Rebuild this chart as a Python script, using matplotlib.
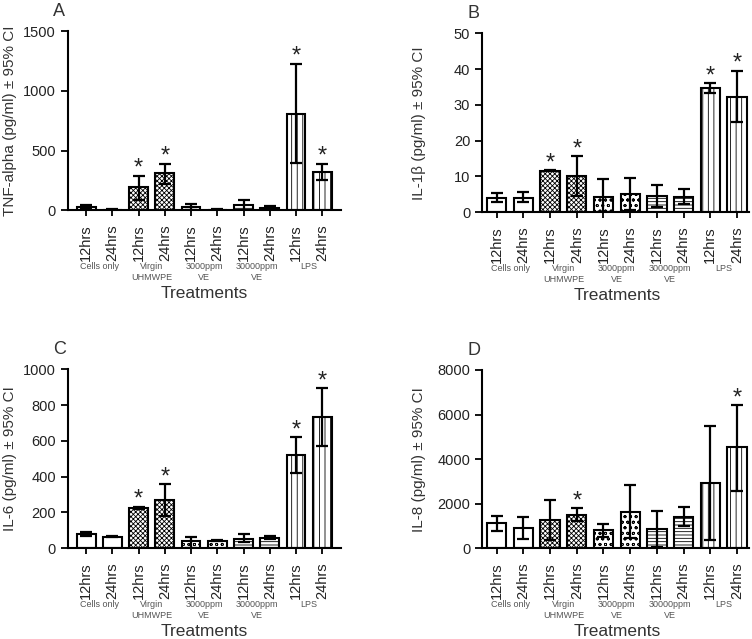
import matplotlib.pyplot as plt
import numpy as np
from matplotlib import transforms

plt.rcParams['font.family'] = ['Liberation Sans', 'DejaVu Sans']
plt.rcParams['hatch.linewidth'] = 0.6

times = ["12hrs", "24hrs"] * 5
groups = ["Cells only", "Virgin\nUHMWPE", "3000ppm\nVE", "30000ppm\nVE", "LPS"]

# mean, lower CI, upper CI per bar (cells, virgin, 3000, 30000, LPS; 12h then 24h)
tnf_mean = [25, 5, 195, 316, 28, 5, 42, 22, 810, 321]
tnf_lo = [10, 2, 85, 223, 0, 2, 0, 12, 400, 250]
tnf_hi = [40, 8, 290, 391, 56, 8, 84, 33, 1229, 391]
tnf_star = [2, 3, 8, 9]

il1b_mean = [4.0, 4.0, 11.6, 10.2, 4.2, 5.0, 4.5, 4.2, 34.7, 32.3]
il1b_lo = [2.8, 2.8, 11.4, 4.5, 0.0, 0.5, 1.4, 2.3, 33.4, 25.2]
il1b_hi = [5.3, 5.7, 11.8, 15.7, 9.4, 9.6, 7.5, 6.5, 36.0, 39.5]
il1b_star = [2, 3, 8, 9]

il6_mean = [80, 65, 226, 271, 39, 43, 52, 60, 520, 731]
il6_lo = [71, 62, 220, 183, 0, 40, 34, 49, 420, 574]
il6_hi = [90, 68, 232, 357, 65, 46, 77, 69, 622, 893]
il6_star = [2, 3, 8, 9]

il8_mean = [1121, 912, 1256, 1510, 822, 1645, 867, 1420, 2945, 4530]
il8_lo = [792, 419, 374, 1211, 523, 450, 45, 1017, 359, 2586]
il8_hi = [1435, 1390, 2153, 1794, 1091, 2840, 1660, 1839, 5486, 6428]
il8_star = [3, 9]

hatches = ["", "", "xxxxxxx", "xxxxxxx", "ooo", "ooo", "-----", "-----", "|||", "|||"]

panels = [
    ("A", "TNF-alpha (pg/ml) ± 95% CI", tnf_mean, tnf_lo, tnf_hi, tnf_star,
     [0, 500, 1000, 1500], [0.090, 0.671, 0.363, 0.280], (-0.7, 9.7), -0.187),
    ("B", "IL-1β (pg/ml) ± 95% CI", il1b_mean, il1b_lo, il1b_hi, il1b_star,
     [0, 10, 20, 30, 40, 50], [0.641, 0.668, 0.355, 0.280], (-0.55, 9.45), -0.21),
    ("C", "IL-6 (pg/ml) ± 95% CI", il6_mean, il6_lo, il6_hi, il6_star,
     [0, 200, 400, 600, 800, 1000], [0.090, 0.142, 0.363, 0.280], (-0.7, 9.7), -0.187),
    ("D", "IL-8 (pg/ml) ± 95% CI", il8_mean, il8_lo, il8_hi, il8_star,
     [0, 2000, 4000, 6000, 8000], [0.641, 0.142, 0.355, 0.279], (-0.55, 9.45), -0.21),
]

fig = plt.figure(figsize=(7.52, 6.39), dpi=100)

for letter, ylabel, mean, lo, hi, stars, yticks, pos, xlim, ylab_x in panels:
    ax = fig.add_axes(pos)
    x = np.arange(len(mean))
    mean = np.array(mean)
    err = [mean - np.array(lo), np.array(hi) - mean]
    ax.bar(x, mean, width=0.72, color="white", edgecolor="black",
           linewidth=1.5, hatch=hatches, zorder=2)
    ax.errorbar(x, mean, yerr=err, fmt="none", ecolor="black", elinewidth=1.6,
                capsize=4, capthick=1.6, zorder=3)
    for i in stars:
        ax.annotate("*", (x[i], hi[i]), xytext=(0, -3), textcoords="offset points",
                    ha="center", va="bottom", fontsize=17, color="#222222")

    ax.set_xlim(*xlim)
    ax.set_ylim(0, yticks[-1])
    ax.set_yticks(yticks)
    ax.set_xticks(x)
    ax.set_xticklabels(times, rotation=90, fontsize=10.5, color="#222222")
    ax.tick_params(axis="y", labelsize=10.5, labelcolor="#222222", length=5, width=1.3)
    ax.tick_params(axis="x", length=4, width=1.3, pad=6)
    for s in ["top", "right"]:
        ax.spines[s].set_visible(False)
    for s in ["left", "bottom"]:
        ax.spines[s].set_linewidth(1.5)
    ax.set_ylabel(ylabel, fontsize=11, color="#333333")
    ax.yaxis.set_label_coords(ylab_x, 0.5)

    trans = transforms.blended_transform_factory(ax.transData, ax.transAxes)
    for g, name in enumerate(groups):
        ax.annotate(name, (2 * g + 0.5, 0), xycoords=trans, xytext=(0, -37),
                    textcoords="offset points", ha="center", va="top",
                    fontsize=6.5, color="#555555", linespacing=1.3)
    ax.annotate("Treatments", (4.5, 0), xycoords=trans, xytext=(0, -54.5),
                textcoords="offset points", ha="center", va="top",
                fontsize=12.5, color="#333333")
    ax.annotate(letter, (0, 1), xycoords="axes fraction", xytext=(-6, 20.5),
                textcoords="offset points", ha="center", va="top",
                fontsize=13, color="#333333")

fig.savefig("out.png", dpi=100)
